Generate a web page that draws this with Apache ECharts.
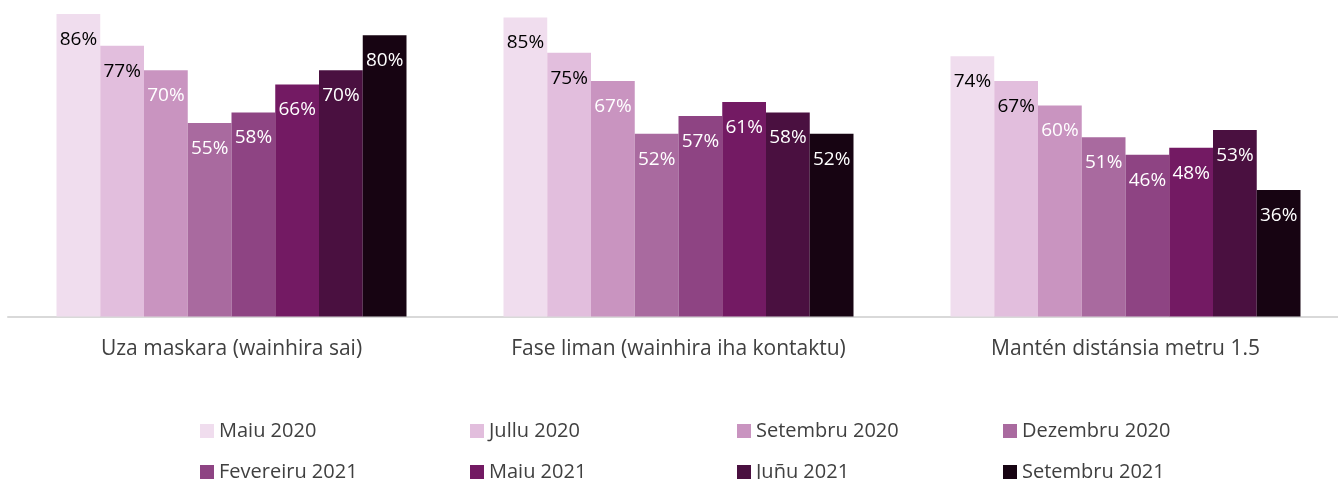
<!DOCTYPE html>
<html><head><meta charset="utf-8">
<script src="https://cdn.jsdelivr.net/npm/echarts@6/dist/echarts.min.js"></script>
<style>html,body{margin:0;padding:0;background:#fff}#c{width:1338px;height:479px}</style>
</head><body><div id="c"></div>
<script>
const categories = ["Uza maskara (wainhira sai)", "Fase liman (wainhira iha kontaktu)", "Mantén distánsia metru 1.5"];
const seriesNames = ["Maiu 2020", "Jullu 2020", "Setembru 2020", "Dezembru 2020", "Fevereiru 2021", "Maiu 2021", "Juñu 2021", "Setembru 2021"];
const maiu2020 = [86, 85, 74];
const jullu2020 = [77, 75, 67];
const setembru2020 = [70, 67, 60];
const dezembru2020 = [55, 52, 51];
const fevereiru2021 = [58, 57, 46];
const maiu2021 = [66, 61, 48];
const junu2021 = [70, 58, 53];
const setembru2021 = [80, 52, 36];
const values = [maiu2020, jullu2020, setembru2020, dezembru2020, fevereiru2021, maiu2021, junu2021, setembru2021];
const colors = ["#F0DDEE", "#E2BEDD", "#C994C0", "#A96A9F", "#8E4483", "#731A63", "#4A1040", "#170412"];
const labelColors = ["#000", "#000", "#fff", "#fff", "#fff", "#fff", "#fff", "#fff"];
const FONT = "Open Sans";

const chart = echarts.init(document.getElementById('c'));
const legendLeft = [200, 470, 737, 1003];
const legends = seriesNames.map((n, i) => ({
  data: [n],
  left: legendLeft[i % 4],
  top: i < 4 ? 421 : 462,
  padding: 0,
  itemWidth: 14, itemHeight: 14, itemGap: 5,
  icon: 'rect',
  textStyle: {fontFamily: FONT, fontSize: 20, lineHeight: 16, color: '#404040', padding: [0,0,0,0]},
  selectedMode: false
}));
chart.setOption({
  animation: false,
  textStyle: {fontFamily: FONT},
  grid: {left: 8, top: 0, width: 1341, height: 316.5, outerBoundsMode: 'none', containLabel: false},
  legend: legends,
  xAxis: {
    type: 'category', data: categories,
    axisLine: {lineStyle: {color: '#d9d9d9', width: 2}},
    axisTick: {show: false},
    axisLabel: {fontFamily: FONT, fontSize: 21, color: '#404040', margin: 22}
  },
  yAxis: {type: 'value', min: 0, max: 90, show: false, splitLine: {show: false}},
  series: seriesNames.map((n, i) => ({
    name: n, type: 'bar', data: values[i],
    barGap: '0%', barCategoryGap: '21.7%',
    itemStyle: {color: colors[i]},
    label: {show: true, position: 'insideTop', distance: 16, formatter: '{c}%',
      fontFamily: FONT, fontSize: 19, color: labelColors[i]}
  }))
});
</script></body></html>
